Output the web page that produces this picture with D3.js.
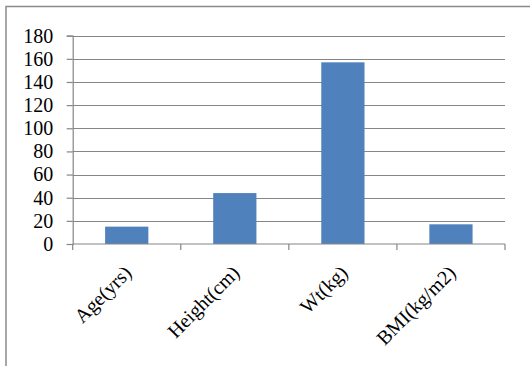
<!DOCTYPE html>
<html>
<head>
<meta charset="utf-8">
<script src="https://cdn.jsdelivr.net/npm/d3@7"></script>
<style>
  html, body { margin: 0; padding: 0; background: #fff; }
  svg { display: block; }
</style>
</head>
<body>
<svg id="chart" width="530" height="366"></svg>
<script>
const categories = ["Age(yrs)", "Height(cm)", "Wt(kg)", "BMI(kg/m2)"];
const values = [15, 44, 157, 17];
const yTicks = [0, 20, 40, 60, 80, 100, 120, 140, 160, 180];

const svg = d3.select("#chart");
const margin = { left: 72.7, right: 505, top: 35.7, bottom: 244 };
const font = "'Liberation Serif', 'Times New Roman', serif";
const gridColor = "#868686";

// outer frame (clipped at right and bottom)
svg.append("rect")
  .attr("x", 6).attr("y", 6.5)
  .attr("width", 700).attr("height", 500)
  .attr("fill", "none")
  .attr("stroke", "#8a8a8a")
  .attr("stroke-width", 1.5);

const x = d3.scaleBand()
  .domain(categories)
  .range([margin.left, margin.right])
  .paddingInner(0.6)
  .paddingOuter(0.3);

const y = d3.scaleLinear()
  .domain([0, 180])
  .range([margin.bottom, margin.top]);

// gridlines
svg.append("g")
  .selectAll("line")
  .data(yTicks.filter(d => d > 0))
  .join("line")
  .attr("x1", margin.left).attr("x2", margin.right)
  .attr("y1", d => Math.round(y(d)) + 0.5).attr("y2", d => Math.round(y(d)) + 0.5)
  .attr("stroke", gridColor)
  .attr("stroke-width", 1.2);

// bars
svg.append("g")
  .selectAll("rect")
  .data(values)
  .join("rect")
  .attr("x", (d, i) => x(categories[i]))
  .attr("y", d => y(d))
  .attr("width", x.bandwidth())
  .attr("height", d => y(0) - y(d))
  .attr("fill", "#4F81BD");

// y axis
const yAxis = d3.axisLeft(y)
  .tickValues(yTicks)
  .tickSize(6)
  .tickPadding(13.5)
  .tickFormat(d3.format("d"));

const yg = svg.append("g")
  .attr("transform", `translate(${margin.left},0)`)
  .call(yAxis);
yg.select(".domain").attr("stroke", gridColor).attr("stroke-width", 1.2);
yg.selectAll(".tick line").attr("stroke", gridColor).attr("stroke-width", 1.2);
yg.selectAll(".tick text")
  .attr("font-family", font)
  .attr("font-size", 20)
  .attr("fill", "#000");

// x axis (category boundaries as ticks)
const bounds = d3.range(categories.length + 1);
const xg = svg.append("g");
xg.append("line")
  .attr("x1", margin.left).attr("x2", margin.right)
  .attr("y1", y(0)).attr("y2", y(0))
  .attr("stroke", gridColor).attr("stroke-width", 1.2);
xg.selectAll("line.tk")
  .data(bounds)
  .join("line")
  .attr("class", "tk")
  .attr("x1", i => margin.left + i * (margin.right - margin.left) / categories.length)
  .attr("x2", i => margin.left + i * (margin.right - margin.left) / categories.length)
  .attr("y1", y(0)).attr("y2", y(0) + 6)
  .attr("stroke", gridColor).attr("stroke-width", 1.2);

xg.selectAll("text")
  .data(categories)
  .join("text")
  .attr("text-anchor", "end")
  .attr("transform", d => `translate(${x(d) + x.bandwidth() / 2 + 6},${y(0) + 30}) rotate(-45)`)
  .attr("font-family", font)
  .attr("font-size", 20)
  .attr("fill", "#000")
  .text(d => d);
</script>
</body>
</html>
